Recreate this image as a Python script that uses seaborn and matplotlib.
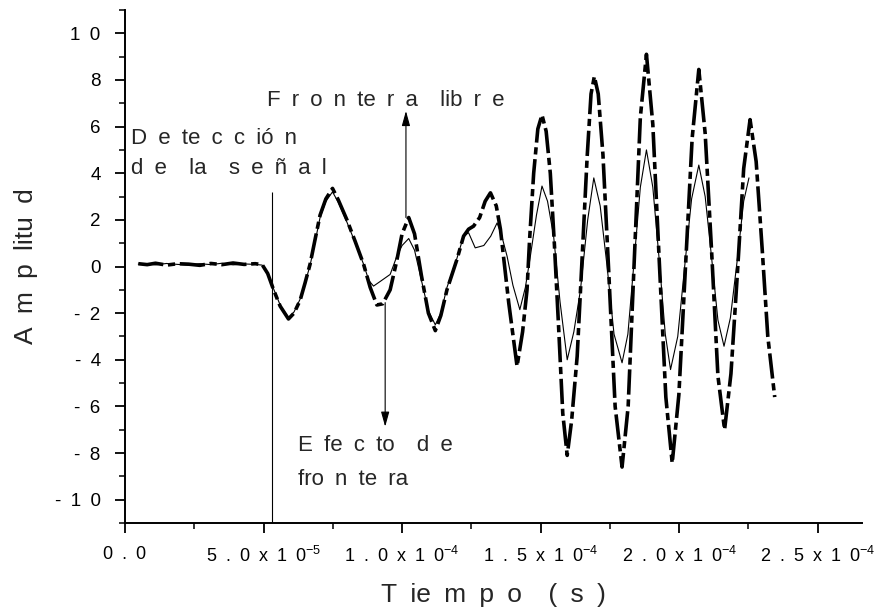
import numpy as np
import pandas as pd
import matplotlib
matplotlib.use("Agg")
import matplotlib.pyplot as plt
import seaborn as sns

# tiempo en unidades de 1e-5 s
t_borde = [0.48, 0.8, 1.1, 1.5, 1.9, 2.3, 2.7, 3.1, 3.5, 3.9, 4.3, 4.7, 4.95,
           5.15, 5.36, 5.6, 5.9, 6.1, 6.32, 6.5, 6.68, 6.85, 7.04, 7.25, 7.49,
           7.7, 8.01, 8.3, 8.61, 8.85, 9.09, 9.3, 9.57, 9.8, 10.0, 10.24, 10.45,
           10.7, 10.95, 11.2, 11.4, 11.62, 11.98, 12.22, 12.4, 12.58, 12.8, 13.0,
           13.19, 13.4, 13.55, 13.85, 14.15, 14.35, 14.51, 14.6, 14.75, 14.9,
           15.05, 15.2, 15.35, 15.5, 15.65, 15.8, 15.96, 16.12, 16.32, 16.5,
           16.68, 16.82, 16.94, 17.08, 17.25, 17.45, 17.69, 17.94, 18.16, 18.38,
           18.6, 18.82, 19.05, 19.28, 19.52, 19.75, 19.99, 20.23, 20.47, 20.71,
           20.94, 21.17, 21.4, 21.64, 21.87, 22.1, 22.33, 22.56, 22.78, 23.0,
           23.2, 23.45]
a_borde = [0.12, 0.08, 0.14, 0.06, 0.12, 0.10, 0.05, 0.13, 0.08, 0.15, 0.09, 0.12, 0.08,
           -0.3, -0.99, -1.7, -2.25, -2.0, -1.45, -0.7, 0.1, 1.1, 2.2, 2.9, 3.35,
           2.85, 2.0, 1.1, 0.1, -0.9, -1.65, -1.6, -1.0, 0.2, 1.4, 2.1, 1.4,
           -0.4, -2.0, -2.75, -2.1, -1.0, 0.3, 1.3, 1.6, 1.73, 2.1, 2.8,
           3.16, 2.6, 1.6, -1.56, -4.28, -2.8, -1.0, 1.1, 4.0, 5.9,
           6.5, 5.8, 4.0, 0.9, -2.6, -6.3, -8.1, -6.6, -3.85, 0.4,
           4.7, 7.4, 8.15, 7.4, 4.8, 0.0, -6.0, -8.6, -6.0, 0.25,
           6.4, 9.1, 6.1, 0.3, -5.6, -8.43, -5.5, 0.0, 5.5, 8.45,
           5.7, 0.7, -4.7, -7.0, -4.6, -0.35, 4.2, 6.3, 4.5, 0.7,
           -3.0, -5.6]

t_libre = [0.48, 0.8, 1.1, 1.5, 1.9, 2.3, 2.7, 3.1, 3.5, 3.9, 4.3, 4.7, 4.95,
           5.15, 5.36, 5.6, 5.9, 6.1, 6.32, 6.5, 6.68, 6.85, 7.04, 7.25, 7.49,
           7.7, 8.01, 8.3, 8.61, 8.8, 8.97, 9.2, 9.57, 9.8, 10.0, 10.24, 10.45,
           10.7, 10.95, 11.2, 11.4, 11.62, 11.98, 12.22, 12.4, 12.64, 12.95, 13.2,
           13.43, 13.6, 13.79, 14.0, 14.25, 14.45, 14.63, 14.85, 15.05, 15.25,
           15.47, 15.7, 15.96, 16.2, 16.44, 16.7, 16.92, 17.15, 17.4, 17.65,
           17.94, 18.15, 18.38, 18.6, 18.82, 19.05, 19.28, 19.5, 19.69, 19.95,
           20.2, 20.45, 20.71, 20.94, 21.17, 21.4, 21.62, 21.85, 22.1, 22.33, 22.52]
a_libre = [0.10, 0.12, 0.07, 0.13, 0.09, 0.06, 0.12, 0.08, 0.14, 0.07, 0.11, 0.09, 0.06,
           -0.3, -0.95, -1.65, -2.2, -1.95, -1.4, -0.7, 0.05, 1.0, 2.1, 2.8, 3.2,
           2.75, 1.9, 1.05, 0.1, -0.6, -0.84, -0.65, -0.34, 0.4, 0.9, 1.2, 0.7,
           -0.6, -1.9, -2.5, -2.0, -0.9, 0.35, 1.3, 1.45, 0.8, 0.9, 1.3,
           1.87, 1.3, 0.44, -0.8, -1.85, -0.9, 0.44, 2.2, 3.45, 2.8,
           1.3, -1.5, -4.0, -2.8, -0.99, 2.0, 3.8, 2.6, 0.0, -2.9,
           -4.13, -2.9, 0.3, 3.4, 5.0, 3.4, 0.3, -2.9, -4.42, -3.0,
           0.0, 2.9, 4.35, 3.0, 0.4, -2.3, -3.42, -2.2, 0.3, 2.8, 3.8]

y_ticks = [-10, -8, -6, -4, -2, 0, 2, 4, 6, 8, 10]
y_labels = ["- 1 0", "- 8", "- 6", "- 4", "- 2", "0", "2", "4", "6", "8", "1 0"]
x_ticks = [0.0, 5e-5, 1e-4, 1.5e-4, 2e-4, 2.5e-4]
x_mant = ["5 . 0", "1 . 0", "1 . 5", "2 . 0", "2 . 5"]
x_exp = ["-5", "-4", "-4", "-4", "-4"]


def sp(s):
    # texto espaciado como en el original
    return s.replace(" ", "\u2002")


x_labels = [sp("0 . 0")] + [sp(m + " x 1 0") + r"$^{\mathregular{" + e + "}}$"
                            for m, e in zip(x_mant, x_exp)]

sns.set_style("ticks")
plt.rcParams["font.family"] = ["Liberation Sans", "DejaVu Sans"]
plt.rcParams["mathtext.fontset"] = "custom"
plt.rcParams["mathtext.rm"] = "Liberation Sans"

df_b = pd.DataFrame({"t": np.array(t_borde) * 1e-5, "a": a_borde})
df_l = pd.DataFrame({"t": np.array(t_libre) * 1e-5, "a": a_libre})

fig = plt.figure(figsize=(8.79, 6.10), dpi=100)
ax = fig.add_axes([125 / 879, 1 - 523 / 610, (862 - 125) / 879, (523 - 10) / 610])

sns.lineplot(data=df_b, x="t", y="a", ax=ax, color="black", linewidth=2.6,
             estimator=None, sort=False)
ax.lines[-1].set_dashes([7, 1.3, 2, 1.3])
sns.lineplot(data=df_l, x="t", y="a", ax=ax, color="black", linewidth=0.8,
             estimator=None, sort=False)

ax.set_xlim(0, 2.66e-4)
ax.set_ylim(-11, 11)
ax.set_yticks(y_ticks)
ax.set_yticklabels([sp(l) for l in y_labels])
ax.set_yticks(np.arange(-11, 12, 1), minor=True)
ax.set_xticks(x_ticks)
ax.set_xticklabels(x_labels)
ax.set_xticks(np.arange(0, 2.66e-4, 2.5e-5), minor=True)
ax.tick_params(which="major", direction="out", length=7.5, width=1.3, labelsize=13.5,
               colors="black")
ax.tick_params(which="minor", direction="out", length=4, width=1.3)
ax.tick_params(axis="x", pad=9, labelsize=13)
ax.tick_params(axis="y", pad=10)
for s in ["left", "bottom"]:
    ax.spines[s].set_linewidth(1.4)
    ax.spines[s].set_color("black")
sns.despine(ax=ax)

ax.set_xlabel(sp("T ie m p o  ( s )"), fontsize=19, labelpad=12)
ax.set_ylabel(sp("A m p litu d"), fontsize=19, labelpad=12)

# anotaciones
ax.vlines(5.32e-5, -11, 3.2, color="black", linewidth=0.8)
ax.text(0.2e-5, 5.24, sp("D e te c c ió n"), fontsize=16, va="baseline", ha="left")
ax.text(0.2e-5, 3.98, sp("d e  la  s e ñ a l"), fontsize=16, va="baseline", ha="left")

flecha = dict(arrowstyle="-|>,head_length=0.9,head_width=0.25", color="black", lw=0.8,
              mutation_scale=10, shrinkA=0, shrinkB=0)
ax.annotate("", xy=(10.14e-5, 6.67), xytext=(10.14e-5, 2.1), arrowprops=flecha)
ax.text(5.13e-5, 6.88, sp("F r o n te r a  lib r e"), fontsize=16, va="baseline", ha="left")

ax.annotate("", xy=(9.39e-5, -6.87), xytext=(9.39e-5, -1.55), arrowprops=flecha)
ax.text(6.25e-5, -7.93, sp("E fe c to  d e"), fontsize=16, va="baseline", ha="left")
ax.text(6.25e-5, -9.36, sp("fro n te ra"), fontsize=16, va="baseline", ha="left")

fig.savefig("out.png", dpi=100)
